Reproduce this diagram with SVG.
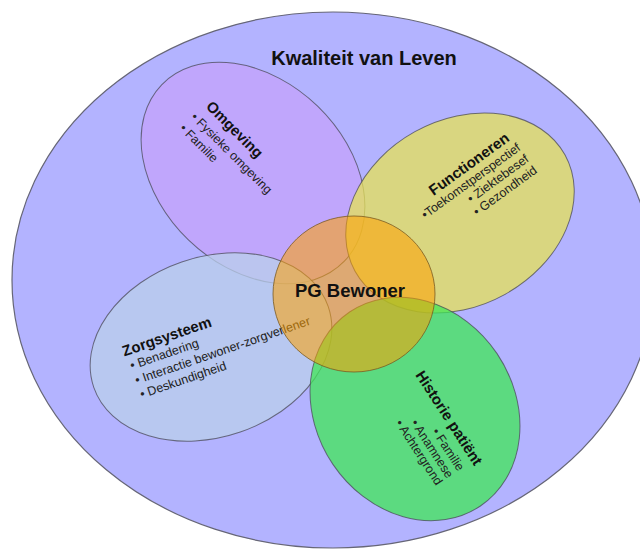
<svg xmlns="http://www.w3.org/2000/svg" width="640" height="549" viewBox="0 0 640 549">
<style>
  .shape { stroke: #4a4a55; stroke-width: 1; stroke-opacity: 0.75; }
  .title { font-family: "Liberation Sans", Arial, sans-serif; font-weight: bold; fill: #111; }
  .item { font-family: "Liberation Sans", Arial, sans-serif; font-size: 12.5px; fill: #222; }
</style>
<rect width="640" height="549" fill="#ffffff"/>
<g id="kwaliteit-van-leven">
  <ellipse cx="333" cy="280" rx="321" ry="268" fill="#b3b3ff" stroke="#666677" stroke-width="1.2"/>
  <text class="title" x="364" y="65" font-size="20" text-anchor="middle">Kwaliteit van Leven</text>
</g>
<g id="omgeving">
  <ellipse class="shape" transform="translate(253,173) rotate(44)" rx="127" ry="93" fill="rgb(196,161,251)" fill-opacity="0.75"/>
  <g transform="translate(232,127) rotate(45)">
    <text class="title" x="-33" y="5" font-size="15">Omgeving</text>
    <text class="item" x="-36" y="23">• Fysieke omgeving</text>
    <text class="item" x="-36" y="39">• Familie</text>
  </g>
</g>
<g id="functioneren">
  <ellipse class="shape" transform="translate(460,213) rotate(-29)" rx="120" ry="93" fill="rgb(229,225,86)" fill-opacity="0.75"/>
  <g transform="translate(469,164) rotate(-36)">
    <text class="title" x="0" y="5" font-size="15" text-anchor="middle">Functioneren</text>
    <text class="item" x="51" y="19" text-anchor="end">•Toekomstperspectief</text>
    <text class="item" x="51" y="33" text-anchor="end">• Ziektebesef</text>
    <text class="item" x="51" y="47" text-anchor="end">• Gezondheid</text>
  </g>
</g>
<g id="zorgsysteem">
  <ellipse class="shape" transform="translate(211,347) rotate(-19)" rx="124" ry="90" fill="rgb(185,207,235)" fill-opacity="0.75"/>
  <g transform="translate(167,337) rotate(-19)">
    <text class="title" x="0" y="4.5" font-size="15" text-anchor="middle">Zorgsysteem</text>
    <text class="item" x="-44" y="19.5">• Benadering</text>
    <text class="item" x="-44" y="35">• Interactie bewoner-zorgverlener</text>
    <text class="item" x="-44" y="50">• Deskundigheid</text>
  </g>
</g>
<g id="historie-patient">
  <ellipse class="shape" transform="translate(415,409) rotate(56)" rx="117" ry="99" fill="rgb(63,231,86)" fill-opacity="0.75"/>
  <g transform="translate(449,418) rotate(57)">
    <text class="title" x="0" y="5" font-size="15" text-anchor="middle">Historie patiënt</text>
    <text class="item" x="50" y="22" text-anchor="end">• Familie</text>
    <text class="item" x="50" y="35" text-anchor="end">• Anamnese</text>
    <text class="item" x="50" y="48" text-anchor="end">• Achtergrond</text>
  </g>
</g>
<g id="pg-bewoner">
  <ellipse cx="354" cy="294" rx="81" ry="78" fill="rgb(255,160,0)" fill-opacity="0.55" stroke="#7a5a20" stroke-width="1" stroke-opacity="0.8"/>
  <text class="title" x="350" y="297" font-size="18.5" text-anchor="middle">PG Bewoner</text>
</g>
</svg>
